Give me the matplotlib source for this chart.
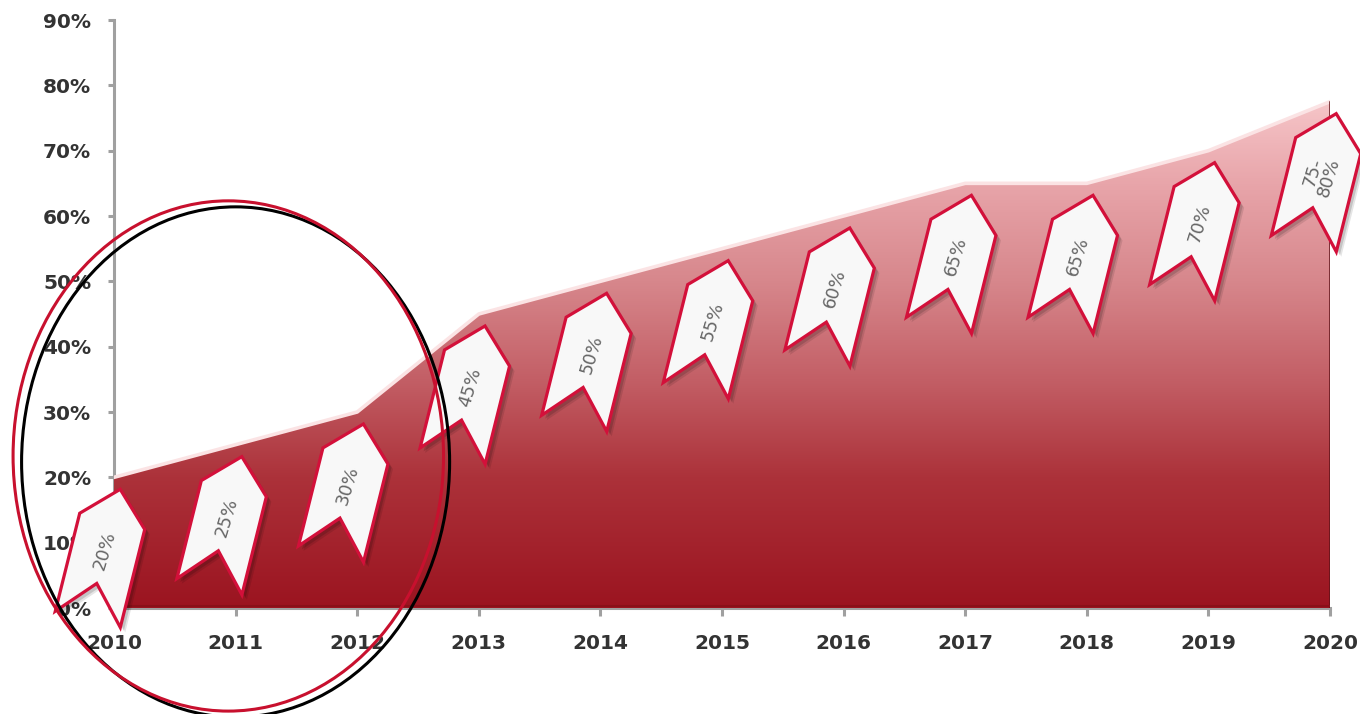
import numpy as np
import matplotlib
matplotlib.use("Agg")
import matplotlib.pyplot as plt
import matplotlib.transforms as mtransforms
from matplotlib.patches import Polygon, Ellipse
from matplotlib.colors import LinearSegmentedColormap

# ---- data -------------------------------------------------------------
years = [2010, 2011, 2012, 2013, 2014, 2015, 2016, 2017, 2018, 2019, 2020]
shares = [20, 25, 30, 45, 50, 55, 60, 65, 65, 70, 77.5]
share_labels = ["20%", "25%", "30%", "45%", "50%", "55%", "60%",
                "65%", "65%", "70%", "75-\n80%"]
y_ticks = [0, 10, 20, 30, 40, 50, 60, 70, 80, 90]
y_tick_labels = [f"{v}%" for v in y_ticks]

# ---- figure / axes ----------------------------------------------------
W, H = 1360, 714
fig = plt.figure(figsize=(W / 100, H / 100), dpi=100)
ax = fig.add_axes([114 / W, (H - 608) / H, (1330 - 114) / W, (608 - 20) / H])

# ---- gradient-filled area -------------------------------------------
verts = [(years[0], 0)] + list(zip(years, shares)) + [(years[-1], 0)]
area = Polygon(verts, closed=True, facecolor="none", edgecolor="none", zorder=2)
ax.add_patch(area)

top = max(shares)
stops = [(0.0, (155, 20, 32)), (20 / top, (172, 50, 58)), (35 / top, (195, 95, 102)),
         (50 / top, (215, 135, 140)), (65 / top, (232, 165, 170)), (1.0, (246, 197, 200))]
cmap = LinearSegmentedColormap.from_list(
    "fill", [(p, tuple(c / 255 for c in rgb)) for p, rgb in stops])
grad = np.linspace(0, 1, 512).reshape(-1, 1)
im = ax.imshow(grad, extent=(years[0], years[-1], 0, top), origin="lower",
               aspect="auto", cmap=cmap, zorder=2, interpolation="bilinear")
im.set_clip_path(area)

# bevel highlight along the top edge and shaded right edge
ax.plot(years, shares, color="#fbe3e4", lw=2.6, zorder=3, solid_joinstyle="round")
ax.plot([years[-1], years[-1]], [0, shares[-1]], color="#5e1218", lw=1.8, zorder=3)
ax.plot([years[0], years[-1]], [0.3, 0.3], color="#8a1019", lw=1.5, zorder=3)

ax.set_xlim(years[0], years[-1])
ax.set_ylim(0, 90)

# ---- axes styling -----------------------------------------------------
for side in ("top", "right"):
    ax.spines[side].set_visible(False)
for side in ("left", "bottom"):
    ax.spines[side].set_color("#a0a0a0")
    ax.spines[side].set_linewidth(2.2)
    ax.spines[side].set_zorder(1.5)

ax.set_xticks(years)
ax.set_xticklabels([str(y) for y in years])
ax.set_yticks(y_ticks)
ax.set_yticklabels(y_tick_labels)
ax.tick_params(axis="x", length=6, width=2.2, color="#a0a0a0", pad=13)
ax.tick_params(axis="y", length=4.5, width=2.2, color="#a0a0a0", pad=12)
for lbl in ax.get_xticklabels() + ax.get_yticklabels():
    lbl.set_fontsize(14.5)
    lbl.set_fontweight("bold")
    lbl.set_color("#333333")
    lbl.set_family("DejaVu Sans")

# ---- ribbon value tags -------------------------------------------------
ribbon = np.array([(-33.5, -67), (0, -30), (33.5, -67), (33.5, 34), (0, 67), (-33.5, 34)])
tilt = -14
dx, dy = -10, -77
for yr, v, lab in zip(years, shares, share_labels):
    anchor = mtransforms.ScaledTranslation(yr, v, ax.transData)
    for k, a in ((5, 0.10), (3.5, 0.14)):
        sh = mtransforms.Affine2D().rotate_deg(tilt).translate(dx + k, dy - k) + anchor
        ax.add_patch(Polygon(ribbon, closed=True, transform=sh, facecolor="black",
                             edgecolor="none", alpha=a, clip_on=False, zorder=4))
    tr = mtransforms.Affine2D().rotate_deg(tilt).translate(dx, dy) + anchor
    ax.add_patch(Polygon(ribbon, closed=True, transform=tr, facecolor="#f8f8f8",
                         edgecolor="#d3103a", lw=2.3, joinstyle="miter",
                         clip_on=False, zorder=5))
    ax.text(yr, v, lab,
            transform=mtransforms.offset_copy(ax.transData, fig=fig, x=dx + 1, y=dy + 4, units="dots"),
            rotation=73, rotation_mode="anchor", ha="center", va="center",
            fontsize=13, color="#666666", linespacing=0.95, zorder=6, clip_on=False)

# ---- highlight ring around 2010-2012 ------------------------------------
ax.add_patch(Ellipse((2011.00, 22.35), 3.52, 78.1, fill=False, edgecolor="black",
                     lw=2.2, clip_on=False, zorder=10))
ax.add_patch(Ellipse((2010.94, 23.27), 3.54, 78.1, fill=False, edgecolor="#c8102e",
                     lw=2.2, clip_on=False, zorder=11))

fig.savefig("out.png", dpi=100)
